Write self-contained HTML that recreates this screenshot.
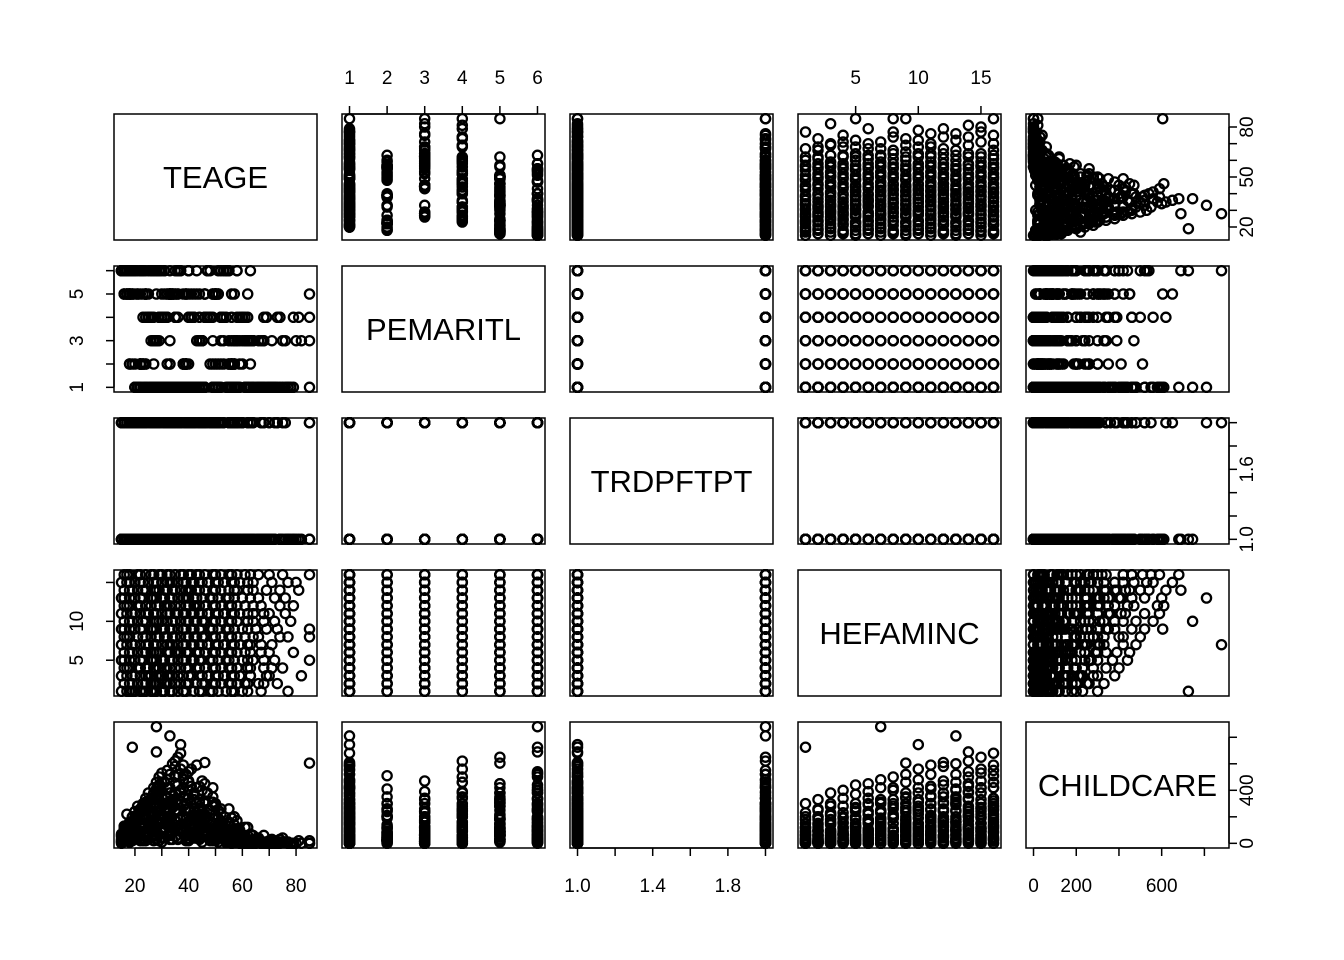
<!DOCTYPE html>
<html><head><meta charset="utf-8"><style>
html,body{margin:0;padding:0;background:#fff;}
svg{display:block;font-family:"Liberation Sans",Arial,sans-serif;}
</style></head><body>
<svg id="chart" width="1344" height="960" xmlns="http://www.w3.org/2000/svg"></svg>
<script>
const varNames = ["TEAGE","PEMARITL","TRDPFTPT","HEFAMINC","CHILDCARE"];
const records = [
[15,6,2,1,10],[18,5,1,1,60],[20,6,1,1,120],[23,4,2,1,30],[26,1,1,1,230],[28,5,1,1,90],[31,6,2,1,300],[34,1,1,1,150],[36,4,1,1,40],[39,2,2,1,200],[42,1,1,1,70],[45,3,1,1,120],[48,4,2,1,20],[51,1,1,1,60],[54,6,1,1,5],[57,2,1,1,30],[60,4,2,1,0],[77,1,1,1,10],[19,6,1,1,725],
[16,6,1,2,30],[19,6,2,2,100],[21,5,1,2,50],[24,1,1,2,260],[27,4,2,2,140],[29,6,1,2,330],[32,1,1,2,60],[35,5,2,2,250],[37,1,1,2,180],[40,4,1,2,20],[43,6,1,2,100],[46,1,2,2,200],[49,3,1,2,40],[52,4,1,2,90],[55,1,2,2,10],[58,6,1,2,20],[61,3,1,2,0],[66,1,1,2,5],[73,4,2,2,0],
[15,6,1,3,50],[17,6,1,3,20],[20,2,2,3,140],[22,6,1,3,60],[25,5,1,3,210],[28,1,2,3,300],[30,4,1,3,100],[33,6,1,3,380],[36,1,2,3,30],[38,5,1,3,280],[41,1,1,3,150],[44,4,2,3,60],[47,6,1,3,180],[50,1,1,3,30],[53,2,2,3,80],[56,4,1,3,15],[59,1,1,3,0],[63,6,2,3,5],[70,1,1,3,0],[82,3,1,3,0],
[16,6,2,4,70],[18,6,1,4,10],[21,1,1,4,200],[24,5,2,4,80],[27,6,1,4,280],[29,1,1,4,20],[32,4,2,4,340],[35,1,1,4,120],[37,6,1,4,400],[40,5,2,4,60],[43,1,1,4,230],[46,4,1,4,90],[49,1,2,4,150],[52,6,1,4,40],[55,3,1,4,70],[58,1,2,4,10],[62,4,1,4,20],[68,1,1,4,0],[75,3,2,4,10],
[15,6,1,5,20],[18,6,2,5,130],[20,1,1,5,40],[23,6,1,5,240],[26,4,2,5,110],[28,1,1,5,370],[31,5,1,5,200],[34,1,2,5,30],[36,6,1,5,440],[39,1,1,5,300],[42,4,2,5,130],[45,1,1,5,260],[48,2,1,5,50],[51,6,2,5,120],[54,1,1,5,20],[57,3,1,5,60],[60,4,2,5,5],[64,1,1,5,0],[72,1,1,5,20],[85,3,1,5,0],
[16,6,1,6,80],[19,5,1,6,20],[21,6,2,6,180],[24,1,1,6,300],[27,6,1,6,60],[29,4,2,6,390],[32,1,1,6,160],[35,5,1,6,450],[37,1,2,6,90],[40,6,1,6,340],[43,1,1,6,40],[46,4,2,6,220],[49,1,1,6,100],[52,3,1,6,170],[55,6,2,6,30],[58,1,1,6,50],[61,4,1,6,0],[67,1,2,6,10],[79,4,1,6,0],
[15,6,2,7,0],[17,6,1,7,100],[20,5,1,7,60],[22,1,2,7,230],[25,6,1,7,130],[28,1,1,7,330],[30,4,2,7,40],[33,1,1,7,420],[36,6,1,7,250],[38,1,2,7,480],[41,5,1,7,110],[44,1,1,7,310],[47,4,2,7,60],[50,1,1,7,190],[53,6,1,7,90],[56,1,2,7,30],[59,2,1,7,70],[63,1,1,7,0],[71,3,1,7,30],[28,6,2,7,880],
[16,6,1,8,40],[18,6,1,8,150],[21,1,2,8,90],[24,4,1,8,280],[26,1,1,8,40],[29,6,2,8,420],[32,1,1,8,200],[35,4,1,8,500],[37,1,2,8,110],[40,6,1,8,400],[43,1,1,8,190],[46,5,2,8,300],[49,1,1,8,20],[52,4,1,8,220],[55,1,2,8,60],[58,3,1,8,110],[61,1,1,8,10],[66,1,1,8,40],[74,4,1,8,0],[85,1,2,8,20],
[15,6,1,9,60],[18,5,2,9,20],[20,6,1,9,200],[23,1,1,9,110],[26,6,2,9,340],[28,1,1,9,30],[31,4,1,9,460],[34,1,2,9,270],[36,6,1,9,520],[39,1,1,9,150],[42,5,2,9,380],[45,1,1,9,80],[48,4,1,9,250],[51,1,2,9,140],[54,6,1,9,50],[57,1,1,9,90],[60,3,2,9,20],[65,1,1,9,0],[69,4,1,9,10],[85,5,1,9,605],
[16,6,2,10,110],[19,6,1,10,30],[21,1,1,10,220],[24,5,2,10,70],[27,1,1,10,380],[29,6,1,10,190],[32,1,2,10,480],[35,4,1,10,50],[37,1,1,10,560],[40,6,2,10,260],[43,1,1,10,420],[46,4,1,10,120],[49,1,2,10,280],[52,2,1,10,70],[55,1,1,10,150],[58,4,2,10,40],[62,1,1,10,0],[68,3,1,10,60],[78,1,1,10,0],[37,1,1,10,745],
[15,6,1,11,30],[17,6,2,11,130],[20,1,1,11,70],[22,6,1,11,260],[25,4,2,11,160],[28,1,1,11,410],[30,5,1,11,80],[33,1,2,11,520],[36,6,1,11,300],[38,1,1,11,590],[41,4,2,11,200],[44,1,1,11,430],[47,6,1,11,90],[50,1,2,11,300],[53,3,1,11,130],[56,1,1,11,40],[59,4,2,11,100],[64,1,1,11,20],[70,1,1,11,0],[76,3,2,11,10],
[16,6,1,12,90],[18,6,1,12,10],[21,5,2,12,180],[24,1,1,12,310],[26,6,1,12,100],[29,1,2,12,440],[32,4,1,12,250],[35,1,1,12,580],[37,6,2,12,140],[40,1,1,12,470],[43,5,1,12,300],[46,1,2,12,180],[49,4,1,12,350],[52,1,1,12,60],[55,6,2,12,160],[58,1,1,12,20],[61,3,1,12,50],[67,1,2,12,0],[74,4,1,12,10],[46,1,1,12,610],
[15,6,2,13,10],[18,6,1,13,160],[20,1,1,13,60],[23,6,2,13,290],[26,4,1,13,200],[28,1,1,13,460],[31,6,2,13,120],[34,1,1,13,600],[36,5,1,13,330],[39,1,2,13,520],[42,4,1,13,240],[45,1,1,13,400],[48,6,2,13,100],[51,1,1,13,250],[54,4,1,13,90],[57,1,2,13,140],[60,2,1,13,20],[66,1,1,13,30],[72,1,1,13,0],[33,1,2,13,810],
[16,6,1,14,40],[19,6,2,14,200],[21,1,1,14,100],[24,5,1,14,340],[27,1,2,14,220],[29,6,1,14,500],[32,1,1,14,140],[35,4,2,14,620],[37,1,1,14,380],[40,6,1,14,540],[43,1,2,14,210],[46,5,1,14,450],[49,1,1,14,110],[52,4,2,14,260],[55,1,1,14,80],[58,3,1,14,170],[62,1,2,14,30],[69,1,1,14,0],[81,4,1,14,20],[28,6,1,14,690],
[15,6,1,15,70],[17,6,1,15,20],[20,6,2,15,240],[22,1,1,15,150],[25,4,1,15,380],[28,1,2,15,270],[30,6,1,15,530],[33,1,1,15,200],[36,5,2,15,650],[38,1,1,15,420],[41,4,1,15,560],[44,1,2,15,150],[47,6,1,15,380],[50,1,1,15,220],[53,4,2,15,110],[56,1,1,15,190],[59,3,1,15,40],[64,1,2,15,60],[71,1,1,15,10],[80,3,1,15,0],
[16,6,2,16,130],[18,6,1,16,30],[21,1,1,16,280],[24,6,2,16,180],[27,1,1,16,420],[29,4,1,16,300],[32,1,2,16,550],[35,6,1,16,250],[37,1,1,16,680],[40,4,2,16,460],[43,1,1,16,590],[46,5,1,16,320],[49,1,2,16,420],[52,4,1,16,160],[55,1,1,16,260],[58,6,2,16,90],[61,1,1,16,120],[66,3,1,16,30],[75,1,1,16,40],[85,4,2,16,0],
[17,6,1,1,40],[22,5,1,1,90],[27,2,1,1,20],[33,3,2,1,60],[38,1,1,1,110],[44,5,1,1,30],[49,2,1,1,80],[56,3,2,1,0],[62,5,1,1,10],[67,3,1,1,0],[24,1,2,1,180],[30,1,1,1,10],
[18,2,1,2,10],[23,6,1,2,70],[28,3,2,2,120],[33,2,1,2,30],[39,5,1,2,150],[45,3,2,2,10],[50,5,1,2,60],[56,2,1,2,0],[62,1,1,2,20],[68,3,2,2,0],[26,1,1,2,90],[31,4,1,2,200],
[19,5,1,3,80],[24,2,1,3,20],[29,3,1,3,160],[34,5,2,3,90],[40,2,1,3,40],[45,1,1,3,220],[51,5,2,3,10],[57,3,1,3,30],[63,2,1,3,0],[69,4,1,3,10],[26,1,2,3,40],[32,1,1,3,230],
[17,5,2,4,30],[22,2,1,4,120],[28,3,1,4,60],[33,5,1,4,190],[39,2,2,4,20],[44,3,1,4,110],[50,5,1,4,70],[56,2,2,4,20],[63,3,1,4,0],[71,1,1,4,0],[25,1,1,4,160],[31,1,2,4,40],
[16,5,1,5,70],[22,2,1,5,20],[27,3,2,5,180],[33,5,1,5,90],[38,2,1,5,200],[44,3,2,5,40],[49,5,1,5,150],[55,2,1,5,30],[62,3,1,5,10],[68,4,2,5,0],[30,1,1,5,270],[41,1,1,5,60],
[18,2,2,6,110],[23,5,1,6,30],[28,3,1,6,240],[33,2,2,6,70],[39,5,1,6,180],[44,3,1,6,100],[50,2,2,6,20],[56,5,1,6,80],[63,3,1,6,0],[70,1,2,6,20],[26,1,1,6,150],[36,1,1,6,290],
[19,2,1,7,40],[24,5,1,7,180],[27,3,2,7,70],[32,2,1,7,300],[39,5,1,7,30],[45,3,1,7,160],[51,2,2,7,40],[57,5,1,7,110],[62,3,1,7,20],[67,1,1,7,0],[34,1,2,7,150],[42,1,1,7,240],
[17,5,1,8,60],[23,2,2,8,190],[28,3,1,8,110],[34,5,1,8,330],[39,2,1,8,60],[45,3,2,8,200],[50,5,1,8,90],[56,2,1,8,10],[64,3,2,8,30],[77,1,1,8,0],[31,1,1,8,260],[42,1,2,8,40],
[16,5,2,9,100],[22,2,1,9,50],[27,3,1,9,230],[33,5,2,9,120],[38,2,1,9,350],[44,3,1,9,170],[49,5,2,9,60],[55,2,1,9,130],[62,3,1,9,0],[73,1,2,9,10],[30,1,1,9,180],[41,1,1,9,300],
[18,5,1,10,140],[23,2,1,10,260],[28,3,2,10,60],[34,5,1,10,310],[39,2,1,10,110],[45,3,2,10,240],[50,5,1,10,30],[56,2,1,10,90],[64,3,1,10,20],[72,1,2,10,0],[30,1,1,10,150],[42,1,1,10,330],
[19,5,2,11,60],[24,2,1,11,210],[27,3,1,11,120],[32,5,1,11,350],[39,2,2,11,250],[45,3,1,11,80],[51,5,1,11,190],[57,2,2,11,20],[62,3,1,11,60],[68,1,1,11,10],[35,1,1,11,170],[42,1,2,11,360],
[17,5,1,12,50],[22,2,2,12,240],[28,3,1,12,160],[33,5,1,12,380],[39,2,1,12,60],[44,3,2,12,260],[50,5,1,12,120],[56,2,1,12,40],[64,3,1,12,10],[79,1,1,12,0],[31,1,2,12,200],[42,1,1,12,130],
[16,5,1,13,110],[22,2,1,13,30],[27,3,2,13,300],[33,5,1,13,180],[38,2,1,13,410],[43,3,1,13,100],[49,5,2,13,310],[55,2,1,13,40],[63,3,1,13,70],[76,1,1,13,10],[30,1,1,13,350],[40,1,2,13,160],
[18,5,2,14,120],[23,2,1,14,20],[28,3,1,14,390],[34,5,2,14,280],[39,2,1,14,120],[44,3,1,14,330],[50,5,1,14,60],[57,2,2,14,200],[64,3,1,14,10],[74,1,1,14,30],[31,1,1,14,240],[41,1,2,14,430],
[18,5,1,15,110],[23,2,2,15,300],[27,3,1,15,90],[32,5,1,15,420],[39,2,2,15,260],[45,3,1,15,470],[51,5,1,15,90],[57,2,1,15,30],[62,3,2,15,120],[77,1,1,15,0],[34,1,1,15,330],[42,1,1,15,50],
[17,5,1,16,220],[22,2,1,16,80],[26,3,2,16,340],[33,5,1,16,140],[38,2,1,16,510],[44,3,2,16,200],[50,5,1,16,280],[56,2,1,16,50],[63,3,1,16,20],[70,1,2,16,0],[30,1,1,16,460],[41,1,1,16,110]
];
const teage = records.map(r => r[0]);
const pemaritl = records.map(r => r[1]);
const trdpftpt = records.map(r => r[2]);
const hefaminc = records.map(r => r[3]);
const childcare = records.map(r => r[4]);
const ticksAge = [20,30,40,50,60,70,80];
const ticksMar = [1,2,3,4,5,6];
const ticksFt = [1.0,1.2,1.4,1.6,1.8,2.0];
const ticksInc = [5,10,15];
const ticksCc = [0,200,400,600,800];
const labelsAgeBottom = [20,40,60,80];
const labelsAgeRight = [20,50,80];
const labelsMarTop = [1,2,3,4,5,6];
const labelsMarLeft = [1,3,5];
const labelsFtBottom = ["1.0","1.4","1.8"];
const labelsFtRight = ["1.0","1.6"];
const labelsIncTop = [5,10,15];
const labelsIncLeft = [5,10];
const labelsCcBottom = [0,200,600];
const labelsCcRight = [0,400];

const NS = "http://www.w3.org/2000/svg";
const svg = document.getElementById("chart");
const series = [teage, pemaritl, trdpftpt, hefaminc, childcare];
const colX = [114,342,570,798,1026], rowY = [114,266,418,570,722];
const PW = 203, PH = 126;
const doms = series.map(s => { const mn = Math.min(...s), mx = Math.max(...s); const p = (mx-mn)*0.04; return [mn-p, mx+p]; });
function sx(v, j){ const d = doms[j]; return colX[j] + (v-d[0])/(d[1]-d[0])*PW; }
function sy(v, i){ const d = doms[i]; return rowY[i] + PH - (v-d[0])/(d[1]-d[0])*PH; }
function mk(tag, attrs){ const e = document.createElementNS(NS, tag); for (const k in attrs) e.setAttribute(k, attrs[k]); return e; }

const allTicks = [ticksAge, ticksMar, ticksFt, ticksInc, ticksCc];
const tickLabelsH = [labelsAgeBottom, labelsMarTop, labelsFtBottom, labelsIncTop, labelsCcBottom];
const tickLabelsV = [labelsAgeRight, labelsMarLeft, labelsFtRight, labelsIncLeft, labelsCcRight];

for (let i = 0; i < 5; i++) {
  for (let j = 0; j < 5; j++) {
    const g = mk("g", {});
    
    
    svg.appendChild(g);
    if (i === j) {
      const t = mk("text", {x: colX[j]+PW/2, y: rowY[i]+PH/2+11, "text-anchor":"middle", "font-size":"31", fill:"#000"});
      t.textContent = varNames[i];
      
      
      g.appendChild(t);
    } else {
      const xs = series[j], ys = series[i];
      for (let k = 0; k < xs.length; k++) {
        const c = mk("circle", {cx: sx(xs[k], j).toFixed(1), cy: sy(ys[k], i).toFixed(1), r: 4.6, fill: "none", stroke: "#000", "stroke-width": 2.3});
        
        
        g.appendChild(c);
      }
    }
    const r = mk("rect", {x: colX[j], y: rowY[i], width: PW, height: PH, fill: "none", stroke: "#000", "stroke-width": 1.5});
    
    
    g.appendChild(r);
  }
}

function axisH(j, top){
  const g = mk("g", {});
  
  
  svg.appendChild(g);
  const y0 = top ? rowY[0] : rowY[4] + PH;
  const dir = top ? -1 : 1;
  const tk = allTicks[j];
  g.appendChild(mk("line", {x1: sx(tk[0], j), x2: sx(tk[tk.length-1], j), y1: y0, y2: y0, stroke: "#000", "stroke-width": 1.5}));
  tk.forEach(v => g.appendChild(mk("line", {x1: sx(v, j), x2: sx(v, j), y1: y0, y2: y0 + dir*8, stroke: "#000", "stroke-width": 1.5})));
  tickLabelsH[j].forEach(v => {
    const t = mk("text", {x: sx(+v, j), y: top ? 84 : 892, "text-anchor": "middle", "font-size": "19", fill: "#000"});
    t.textContent = v;
    
    
    g.appendChild(t);
  });
}
function axisV(i, left){
  const g = mk("g", {});
  
  
  svg.appendChild(g);
  const x0 = left ? colX[0] : colX[4] + PW;
  const dir = left ? -1 : 1;
  const tk = allTicks[i];
  g.appendChild(mk("line", {x1: x0, x2: x0, y1: sy(tk[0], i), y2: sy(tk[tk.length-1], i), stroke: "#000", "stroke-width": 1.5}));
  tk.forEach(v => g.appendChild(mk("line", {x1: x0, x2: x0 + dir*8, y1: sy(v, i), y2: sy(v, i), stroke: "#000", "stroke-width": 1.5})));
  tickLabelsV[i].forEach(v => {
    const tx = left ? 83 : 1253, ty = sy(+v, i);
    const t = mk("text", {x: tx, y: ty, "text-anchor": "middle", "font-size": "19", fill: "#000", transform: "rotate(-90 " + tx + " " + ty + ")"});
    t.textContent = v;
    
    
    g.appendChild(t);
  });
}
axisH(0, false); axisH(2, false); axisH(4, false);
axisH(1, true); axisH(3, true);
axisV(0, false); axisV(2, false); axisV(4, false);
axisV(1, true); axisV(3, true);
</script>
</body></html>
